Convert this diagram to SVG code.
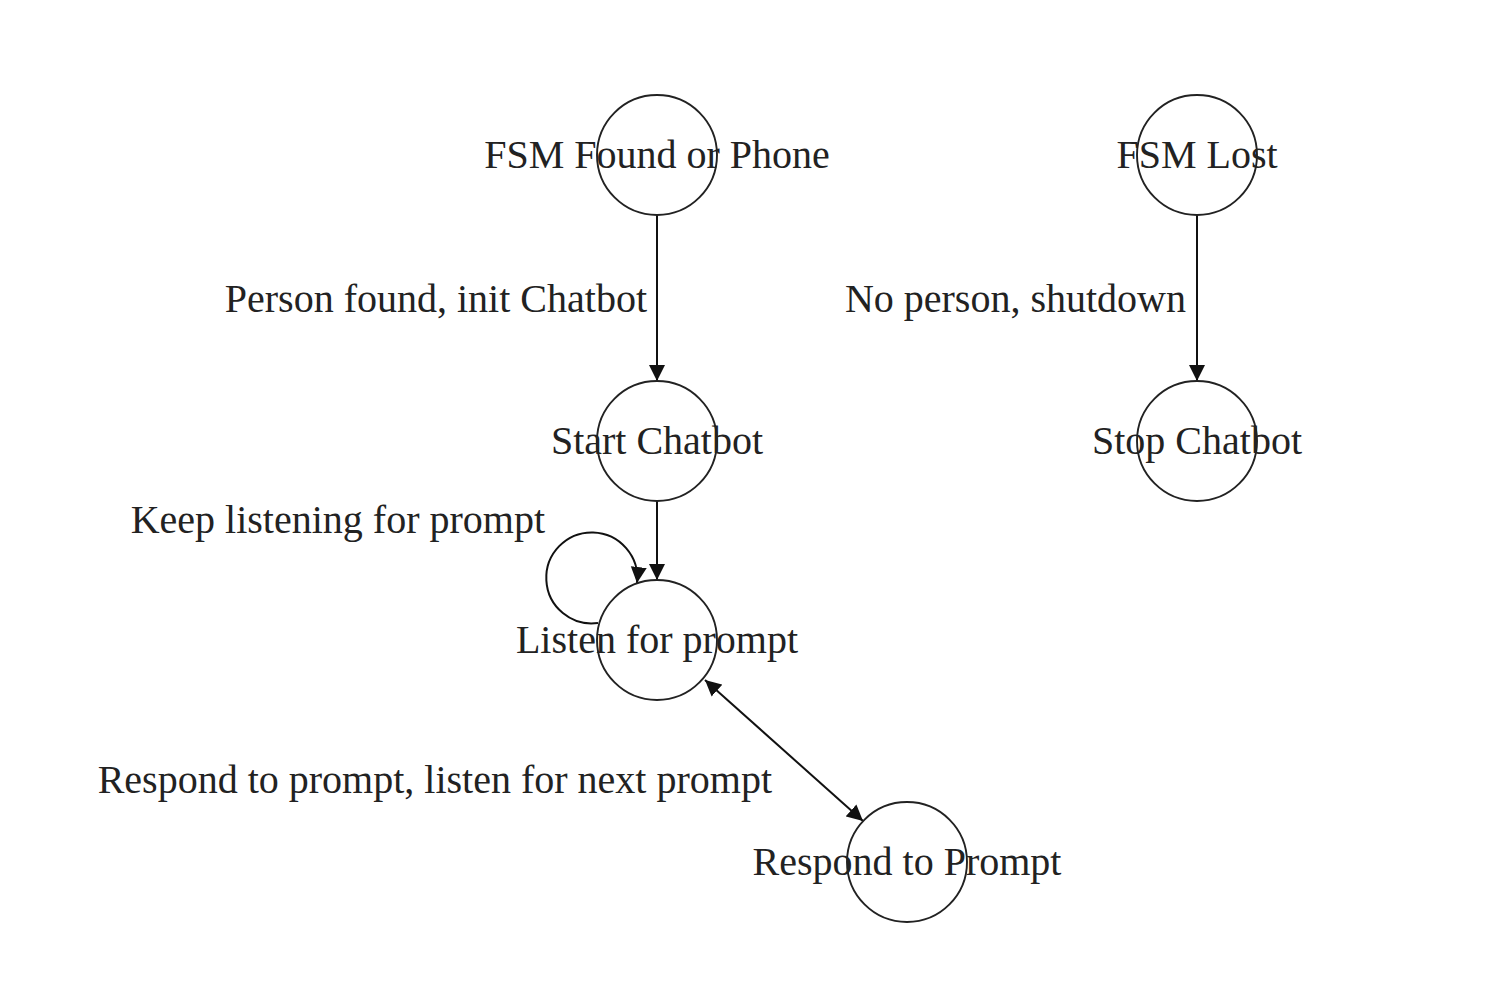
<svg xmlns="http://www.w3.org/2000/svg" width="1496" height="986" viewBox="0 0 1496 986">
<style>
  .node circle { fill: none; stroke: #222; stroke-width: 1.9; }
  text { font-family: "Liberation Serif", "Times New Roman", serif; font-size: 40px; fill: #222; }
  .node text { text-anchor: middle; }
  .lbl { text-anchor: end; }
  .edge { fill: none; stroke: #111; stroke-width: 2; }
</style>
<defs>
  <marker id="arrow" viewBox="0 0 10 10" refX="10" refY="5" markerUnits="userSpaceOnUse" markerWidth="16" markerHeight="17" orient="auto-start-reverse">
    <path d="M0,0 L10,5 L0,10 z" fill="#111"/>
  </marker>
</defs>
<rect width="1496" height="986" fill="#fff"/>
<g id="connectors">
  <path class="edge" d="M657 215 L657 381" marker-end="url(#arrow)"/>
  <path class="edge" d="M1197 215 L1197 381" marker-end="url(#arrow)"/>
  <path class="edge" d="M657 501 L657 580" marker-end="url(#arrow)"/>
  <path class="edge" d="M598 623 A45.5 45.5 0 1 1 637 583" marker-end="url(#arrow)"/>
  <path class="edge" d="M705 680 L863 821" marker-start="url(#arrow)" marker-end="url(#arrow)"/>
  <text class="lbl" x="647" y="312">Person found, init Chatbot</text>
  <text class="lbl" x="1186" y="312">No person, shutdown</text>
  <text class="lbl" x="545" y="533">Keep listening for prompt</text>
  <text class="lbl" x="772" y="793">Respond to prompt, listen for next prompt</text>
</g>
<g id="fsm-found" class="node">
  <circle cx="657" cy="155" r="60"/>
  <text x="657" y="168">FSM Found or Phone</text>
</g>
<g id="fsm-lost" class="node">
  <circle cx="1197" cy="155" r="60"/>
  <text x="1197" y="168">FSM Lost</text>
</g>
<g id="start-chatbot" class="node">
  <circle cx="657" cy="441" r="60"/>
  <text x="657" y="454">Start Chatbot</text>
</g>
<g id="stop-chatbot" class="node">
  <circle cx="1197" cy="441" r="60"/>
  <text x="1197" y="454">Stop Chatbot</text>
</g>
<g id="listen" class="node">
  <circle cx="657" cy="640" r="60"/>
  <text x="657" y="653">Listen for prompt</text>
</g>
<g id="respond" class="node">
  <circle cx="907" cy="862" r="60"/>
  <text x="907" y="875">Respond to Prompt</text>
</g>
</svg>
